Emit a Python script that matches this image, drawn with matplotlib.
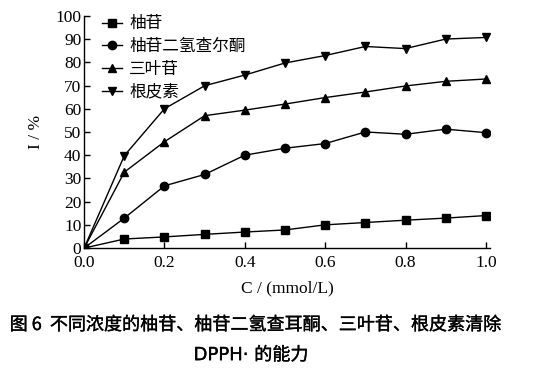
import matplotlib
matplotlib.use("Agg")
import matplotlib.pyplot as plt
import matplotlib.patheffects as pe

# concentration (mmol/L)
conc = [0.0, 0.1, 0.2, 0.3, 0.4, 0.5, 0.6, 0.7, 0.8, 0.9, 1.0]

# scavenging rate I (%)
naringin = [0, 3.9, 4.8, 5.9, 6.9, 7.8, 10.0, 11.0, 12.0, 12.9, 14.0]
naringin_dhc = [0, 12.9, 26.8, 31.7, 40.0, 43.0, 45.0, 50.0, 49.0, 51.2, 49.7]
trilobatin = [0, 32.7, 45.8, 57.0, 59.4, 62.0, 64.8, 67.2, 69.8, 71.8, 72.8]
phloretin = [0, 39.8, 60.0, 69.9, 74.5, 79.7, 82.9, 86.8, 85.9, 90.0, 90.7]

labels = ["柚苷", "柚苷二氢查尔酮", "三叶苷", "根皮素"]
markers = ["s", "o", "^", "v"]
xticks = [0.0, 0.2, 0.4, 0.6, 0.8, 1.0]
yticks = list(range(0, 101, 10))

serif = ["Liberation Serif", "DejaVu Serif"]
cjk = ["Noto Sans CJK SC", "DejaVu Sans"]

fig = plt.figure(figsize=(5.36, 3.77), dpi=100)
ax = fig.add_axes([0.157, 0.342, 0.757, 0.616])

for ys, lab, m in zip([naringin, naringin_dhc, trilobatin, phloretin], labels, markers):
    ax.plot(conc, ys, color="black", linewidth=1.0, marker=m, markersize=6, label=lab)

ax.set_xlim(0, 1.01)
ax.set_ylim(0, 100)
ax.set_xticks(xticks)
ax.set_yticks(yticks)
ax.set_xticklabels([f"{v:.1f}" for v in xticks], fontfamily=serif, fontsize=12.5)
ax.set_yticklabels([str(v) for v in yticks], fontfamily=serif, fontsize=12.5)
ax.tick_params(direction="in", length=4, width=1)
ax.tick_params(axis="x", pad=5)
ax.tick_params(axis="y", pad=2)
for side in ("top", "right"):
    ax.spines[side].set_visible(False)
for side in ("left", "bottom"):
    ax.spines[side].set_linewidth(1.0)

ax.set_xlabel("C / (mmol/L)", fontfamily=serif, fontsize=12.5, labelpad=7)
ax.set_ylabel("I / %", fontfamily=serif, fontsize=12.5, labelpad=8)

ax.legend(loc="upper left", bbox_to_anchor=(0.02, 1.045), frameon=False,
          prop={"family": cjk, "size": 12}, handlelength=1.2, numpoints=1,
          labelspacing=0.34, handletextpad=0.4, borderaxespad=0.2)

thick = [pe.withStroke(linewidth=0.25, foreground="black")]
fig.text(0.018, 0.138, "图 6  不同浓度的柚苷、柚苷二氢查耳酮、三叶苷、根皮素清除",
         fontfamily=cjk, fontsize=13, ha="left", va="center", path_effects=thick)
fig.text(0.468, 0.058, "DPPH· 的能力", fontfamily=["DejaVu Sans", "Noto Sans CJK SC"],
         fontsize=13, ha="center", va="center", path_effects=thick)

fig.savefig("out.png", dpi=100)
plt.close(fig)
